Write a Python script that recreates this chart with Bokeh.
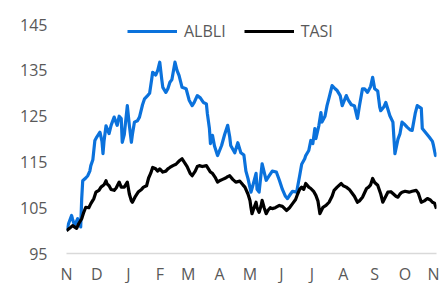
import pandas as pd
from bokeh.plotting import figure
from bokeh.models import Range1d, FixedTicker, CustomJSTickFormatter, Legend, LegendItem
from bokeh.embed import file_html
from bokeh.resources import INLINE

# ---- data (days counted from 1 Nov 2017) ----
start_date = "2017-11-01"
end_date = "2018-11-01"

albli_day = [0, 2, 5, 6, 8, 11, 14, 15, 16, 19, 21, 23, 24, 26, 28, 30, 33, 35, 36, 37,
             39, 42, 44, 47, 50, 52, 54, 55, 57, 60, 62, 64, 65, 67, 70, 72, 75, 77, 80, 82,
             84, 85, 88, 90, 92, 94, 95, 98, 100, 102, 104, 107, 109, 111, 114, 118, 121, 124, 126, 129,
             132, 135, 138, 139, 141, 142, 144, 146, 149, 153, 156, 159, 161, 162, 166, 169, 172, 175, 177, 179,
             182, 184, 187, 188, 190, 193, 197, 200, 203, 207, 210, 213, 216, 218, 221, 223, 227, 230, 232, 235,
             236, 239, 241, 243, 245, 246, 249, 251, 252, 255, 257, 259, 262, 265, 267, 270, 272, 276, 278, 281,
             284, 287, 289, 292, 294, 297, 300, 302, 304, 307, 309, 310, 313, 315, 319, 322, 324, 327, 329, 331,
             333, 336, 339, 341, 344, 346, 350, 351, 354, 358, 361, 362, 364, 365]
albli_val = [100.0, 101.5, 103.3, 102.5, 101.1, 102.6, 100.8, 107.0, 110.9, 111.5, 112.0, 113.0, 114.2, 115.5, 119.7, 120.5, 121.5, 119.5, 116.8, 119.5,
             122.9, 121.2, 123.0, 124.8, 123.0, 125.0, 124.5, 119.3, 121.0, 127.3, 123.0, 119.3, 121.0, 123.7, 124.0, 124.8, 127.5, 128.8, 129.5, 130.0,
             133.0, 134.6, 134.0, 135.0, 136.8, 133.0, 131.3, 130.2, 131.0, 132.4, 133.0, 136.8, 135.0, 133.9, 131.3, 131.0, 128.5, 127.3, 128.0, 129.5,
             129.0, 128.0, 127.7, 125.5, 122.3, 119.0, 120.8, 118.5, 116.4, 118.6, 121.0, 123.0, 120.5, 118.6, 117.0, 119.2, 117.0, 116.5, 113.0, 111.4,
             108.4, 110.0, 112.5, 109.0, 108.4, 114.6, 111.0, 112.0, 113.0, 112.8, 111.0, 109.0, 107.5, 107.0, 108.0, 108.6, 108.4, 112.0, 114.5, 115.7,
             116.4, 117.5, 119.7, 119.0, 122.3, 120.1, 123.0, 125.8, 123.7, 125.0, 127.3, 129.0, 131.7, 131.0, 130.6, 129.5, 127.3, 129.5, 128.5, 127.5,
             127.3, 124.5, 127.3, 131.0, 131.0, 130.2, 131.5, 133.5, 131.0, 130.5, 127.0, 126.2, 127.0, 128.0, 125.1, 123.7, 116.8, 120.0, 121.2, 123.7,
             123.3, 122.6, 122.0, 121.9, 125.6, 127.3, 126.7, 122.3, 121.5, 120.4, 119.5, 118.6, 116.4, 117.1]

tasi_day = [0, 3, 6, 10, 12, 15, 17, 19, 22, 24, 27, 29, 32, 34, 37, 39, 40, 42, 44, 47,
            49, 52, 54, 57, 60, 62, 64, 65, 68, 71, 74, 76, 79, 81, 83, 85, 88, 90, 92, 95,
            98, 100, 102, 105, 108, 111, 114, 116, 119, 122, 124, 127, 129, 131, 134, 138, 140, 142, 144, 147,
            149, 151, 154, 157, 159, 161, 164, 167, 171, 174, 176, 179, 181, 182, 183, 185, 187, 188, 190, 192,
            193, 195, 197, 199, 201, 203, 206, 210, 213, 217, 220, 223, 226, 228, 230, 232, 234, 236, 239, 241,
            244, 246, 248, 250, 253, 256, 259, 262, 264, 267, 271, 273, 276, 279, 282, 284, 287, 289, 292, 296,
            298, 300, 302, 304, 307, 310, 312, 315, 317, 320, 322, 325, 327, 329, 331, 334, 338, 341, 345, 347,
            350, 353, 356, 359, 361, 363, 365]
tasi_val = [100.0, 100.5, 101.1, 100.5, 101.5, 102.6, 104.0, 105.1, 105.0, 105.9, 107.0, 108.4, 108.8, 109.5, 110.0, 110.9, 110.2, 109.8, 109.0, 108.8,
            109.3, 110.6, 109.5, 109.5, 110.6, 108.0, 106.5, 106.2, 107.5, 108.5, 109.0, 109.5, 109.8, 111.5, 112.5, 113.8, 113.5, 113.0, 113.5, 112.8,
            113.0, 113.5, 113.8, 114.2, 114.5, 115.2, 115.7, 115.0, 114.0, 112.5, 112.0, 113.0, 114.0, 114.2, 114.0, 114.2, 113.5, 112.8, 112.5, 111.5,
            110.6, 110.9, 111.2, 111.5, 111.8, 112.0, 111.2, 110.6, 110.8, 110.0, 109.5, 108.0, 106.6, 105.0, 103.7, 105.0, 106.2, 105.0, 104.0, 105.5,
            106.6, 105.0, 103.7, 104.5, 105.0, 104.8, 105.0, 105.5, 105.3, 104.4, 105.0, 105.9, 106.8, 108.0, 109.0, 109.5, 109.0, 110.3, 109.5, 109.2,
            108.5, 107.7, 106.5, 103.7, 105.1, 105.5, 106.2, 107.5, 108.8, 109.5, 110.3, 109.8, 109.5, 109.0, 108.1, 107.5, 106.2, 106.5, 107.3, 109.2,
            109.5, 110.0, 111.4, 110.5, 109.9, 108.0, 106.2, 107.5, 108.4, 108.5, 108.1, 107.5, 107.3, 108.0, 108.4, 108.6, 108.4, 108.6, 108.8, 108.2,
            106.2, 106.5, 107.0, 106.7, 106.2, 106.0, 104.8]

month_ticks = ["2017-11-01", "2017-12-01", "2018-01-01", "2018-02-01", "2018-03-01", "2018-04-01",
               "2018-05-01", "2018-06-01", "2018-07-01", "2018-08-01", "2018-09-01", "2018-10-01", "2018-11-01"]
month_labels = ["N", "D", "J", "F", "M", "A", "M", "J", "J", "A", "S", "O", "N"]
y_ticks = [95, 105, 115, 125, 135, 145]

series_names = ["ALBLI", "TASI"]
BLUE = "#0b72dc"
BLACK = "#000000"
GREY_TEXT = "#595959"
FONT = "Open Sans"

base = pd.Timestamp(start_date)
albli_x = base + pd.to_timedelta(albli_day, unit="D")
tasi_x = base + pd.to_timedelta(tasi_day, unit="D")
tick_ms = [pd.Timestamp(d).timestamp() * 1000.0 for d in month_ticks]

# y range slightly above the top tick so the legend sits inside the (invisible) frame
p = figure(frame_width=370, frame_height=238, x_axis_type="datetime",
           output_backend="svg", toolbar_location=None,
           x_range=Range1d(pd.Timestamp(start_date), pd.Timestamp(end_date)),
           y_range=Range1d(95, 147),
           min_border_left=66, min_border_right=3, min_border_top=15, min_border_bottom=20)

r1 = p.line(albli_x, albli_val, line_color=BLUE, line_width=3.2, line_join="round")
r2 = p.line(tasi_x, tasi_val, line_color=BLACK, line_width=3.2, line_join="round")

p.xgrid.grid_line_color = None
p.ygrid.grid_line_color = None
p.outline_line_color = None
p.background_fill_color = "white"
p.border_fill_color = "white"

xa = p.xaxis[0]
xa.ticker = FixedTicker(ticks=tick_ms)
xa.formatter = CustomJSTickFormatter(args=dict(tvals=tick_ms, labs=month_labels),
                                     code="const i = tvals.indexOf(tick); return i >= 0 ? labs[i] : '';")
xa.axis_line_color = "#d9d9d9"
xa.axis_line_width = 1.5
xa.major_tick_line_color = None
xa.major_tick_out = 0
xa.major_tick_in = 0
xa.minor_tick_line_color = None
xa.minor_tick_out = 0
xa.major_label_standoff = 9
xa.major_label_text_font = FONT
xa.major_label_text_font_size = "16px"
xa.major_label_text_color = GREY_TEXT

ya = p.yaxis[0]
ya.ticker = FixedTicker(ticks=y_ticks)
ya.axis_line_color = None
ya.major_tick_line_color = None
ya.major_tick_out = 0
ya.major_tick_in = 0
ya.minor_tick_line_color = None
ya.minor_tick_out = 0
ya.major_label_standoff = 19
ya.major_label_text_font = FONT
ya.major_label_text_font_size = "16px"
ya.major_label_text_color = GREY_TEXT

legend = Legend(items=[LegendItem(label=series_names[0], renderers=[r1]),
                       LegendItem(label=series_names[1], renderers=[r2])],
                orientation="horizontal", location=(61, 211),
                glyph_width=50, glyph_height=20, label_height=20, label_standoff=7,
                spacing=18, padding=0, margin=0,
                border_line_color=None, background_fill_alpha=0,
                label_text_font=FONT, label_text_font_size="16px",
                label_text_color=GREY_TEXT)
p.add_layout(legend)

open("out.html", "w").write(file_html(p, INLINE))
